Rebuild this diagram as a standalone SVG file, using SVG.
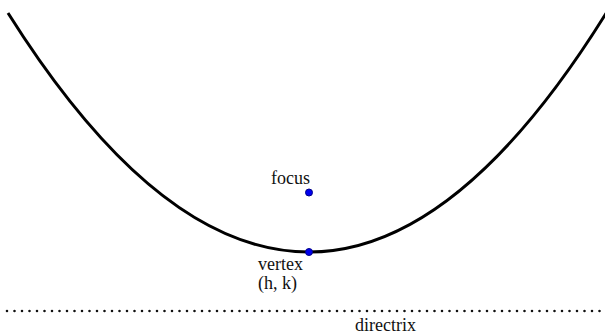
<svg xmlns="http://www.w3.org/2000/svg" width="605" height="335" viewBox="0 0 605 335">
<style>
text{font-family:"Liberation Serif","Times New Roman",serif;font-size:18px;fill:#111}
.pt{fill:#0000ee;stroke:#000088;stroke-width:1}
</style>
<rect width="605" height="335" fill="#fff"/>
<g id="connectors">
<path id="parabola" d="M8,13 Q158.5,252 309,252 Q458,252 607,11.8" fill="none" stroke="#000" stroke-width="3"/>
<line id="directrix-line" x1="7" y1="311" x2="605" y2="311" stroke="#111" stroke-width="2.6" stroke-linecap="round" stroke-dasharray="0 7.5"/>
</g>
<g id="focus">
<circle class="pt" cx="309" cy="192.5" r="3.5"/>
<text x="271" y="184">focus</text>
</g>
<g id="vertex">
<circle class="pt" cx="309" cy="252" r="3.5"/>
<text x="258" y="270">vertex</text>
<text x="258" y="289">(h, k)</text>
</g>
<g id="directrix">
<text x="355" y="331">directrix</text>
</g>
</svg>
